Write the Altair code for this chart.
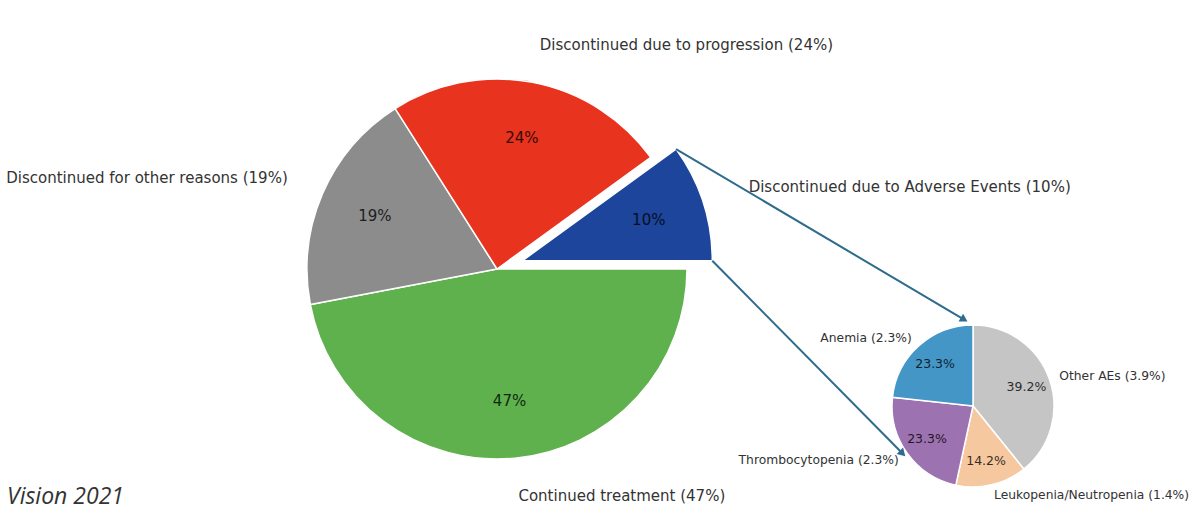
import math
import altair as alt
import pandas as pd

# ---------------- data ----------------
main_labels = ["Discontinued due to Adverse Events", "Discontinued due to progression",
               "Discontinued for other reasons", "Continued treatment"]
main_values = [10, 24, 19, 47]
main_colors = ["#1c459b", "#e8331f", "#8c8c8c", "#5eb14c"]
main_explode = [0.14, 0, 0, 0]

ae_labels = ["Anemia", "Thrombocytopenia", "Leukopenia/Neutropenia", "Other AEs"]
ae_share = [23.3, 23.3, 14.2, 39.2]      # % of AE discontinuations
ae_overall = [2.3, 2.3, 1.4, 3.9]        # % of all patients
ae_colors = ["#4496c7", "#9d72b0", "#f5c8a0", "#c5c5c5"]
ae_explode = [0, 0, 0, 0]

arrow_targets_deg = [356.6, 233.0]       # where the connectors meet the small pie

footer_text = "Vision 2021"

# ---------------- layout ----------------
W, H = 1200, 514
CX, CY, R = 497, 269, 190
CX2, CY2, R2 = 973, 406, 81
MAIN_START = math.pi / 2      # first slice starts at 3 o'clock, counter-clockwise
AE_START = 0.0                # first slice starts at 12 o'clock, counter-clockwise
TXT = "#333333"
ARROW = "#2e6b8c"
FONT = "DejaVu Sans"


def build(labels, values, colors, explode, start, radius, name_fmt, pct_fmt):
    n = len(values)
    total = float(sum(values))
    rows = []
    cum = 0.0
    # Vega draws clockwise, the reference counter-clockwise -> accumulate in reverse order
    for i in reversed(range(n)):
        v = values[i]
        s = cum
        cum += v
        m = s + v / 2.0
        th = start + 2 * math.pi * m / total
        e = explode[i] * radius
        rows.append(dict(
            idx=i, value=v, s=s, e=cum, m=m, color=colors[i],
            ox=e * math.sin(th), oy=-e * math.cos(th), exploded=explode[i] > 0,
            side="left" if math.sin(th) >= 0 else "right",
            name_text=name_fmt(i), pct_text=pct_fmt(i),
            th_s=start + 2 * math.pi * s / total, th_e=start + 2 * math.pi * cum / total,
        ))
    return pd.DataFrame(rows), total


main_df, main_total = build(
    main_labels, main_values, main_colors, main_explode, MAIN_START, R,
    lambda i: f"{main_labels[i]} ({main_values[i]}%)",
    lambda i: f"{main_values[i]}%")

ae_df, ae_total = build(
    ae_labels, ae_share, ae_colors, ae_explode, AE_START, R2,
    lambda i: f"{ae_labels[i]} ({ae_overall[i]}%)",
    lambda i: f"{ae_share[i]}%")


def pie_layers(df, total, start, cx, cy, radius, pct_r, lab_r, lab_extra,
               pct_size, lab_size, stroke_w):
    scale = alt.Scale(domain=[0, total], range=[start, start + 2 * math.pi])
    layers = []
    for rec in df.to_dict("records"):
        base = alt.Chart(df).transform_filter(alt.datum.idx == int(rec["idx"]))
        x = alt.value(cx + rec["ox"])
        y = alt.value(cy + rec["oy"])
        arc = base.mark_arc(outerRadius=radius, stroke="white", strokeWidth=stroke_w).encode(
            theta=alt.Theta("s:Q", scale=scale),
            theta2=alt.Theta2("e:Q"),
            fill=alt.Fill("color:N", scale=None),
            x=x, y=y,
        )
        pct = base.mark_text(radius=pct_r, fontSize=pct_size, font=FONT, color="#000000",
                             opacity=0.78, baseline="middle", align="center").encode(
            theta=alt.Theta("m:Q", scale=scale), text="pct_text:N", x=x, y=y)
        extra = lab_extra if rec["exploded"] else 0
        lab = base.mark_text(radius=lab_r + extra, fontSize=lab_size, font=FONT, color=TXT,
                             baseline="middle", align=rec["side"]).encode(
            theta=alt.Theta("m:Q", scale=scale), text="name_text:N", x=x, y=y)
        layers += [arc, pct, lab]
    return layers


main_layers = pie_layers(main_df, main_total, MAIN_START, CX, CY, R,
                         0.7 * R, 1.2 * R, 10, 15, 15, 1.5)
ae_layers = pie_layers(ae_df, ae_total, AE_START, CX2, CY2, R2,
                       0.7 * R2, 1.13 * R2, 0, 12.5, 12.3, 1.5)

# ---------------- connectors ----------------
ex = main_df[main_df.exploded].iloc[0]
ecx, ecy = CX + ex["ox"], CY + ex["oy"]
starts = [
    (ecx + R * math.sin(ex["th_s"]), ecy - R * math.cos(ex["th_s"])),
    (ecx + R * math.sin(ex["th_e"]), ecy - R * math.cos(ex["th_e"])),
]
# upper edge of exploded slice -> top target; lower edge -> lower target
starts = sorted(starts, key=lambda p: p[1])
HEAD = 80
half = math.sqrt(HEAD) / 2
arrow_rows = []
for (sx, sy), deg in zip(starts, arrow_targets_deg):
    t = math.radians(deg)
    tx = CX2 + 1.04 * R2 * math.sin(t)
    ty = CY2 - 1.04 * R2 * math.cos(t)
    dx, dy = tx - sx, ty - sy
    L = math.hypot(dx, dy)
    ux, uy = dx / L, dy / L
    hx, hy = tx - half * ux, ty - half * uy
    ang = math.degrees(math.atan2(ux, -uy)) % 360
    arrow_rows.append(dict(x1=sx, y1=sy, x2=hx, y2=hy, hx=hx, hy=hy, ang=ang))
arrow_df = pd.DataFrame(arrow_rows)

lines = alt.Chart(arrow_df).mark_rule(color=ARROW, strokeWidth=2).encode(
    x=alt.X("x1:Q", scale=None), y=alt.Y("y1:Q", scale=None),
    x2="x2:Q", y2="y2:Q")
heads = alt.Chart(arrow_df).mark_point(shape="triangle-up", filled=True, size=HEAD,
                                       color=ARROW, opacity=1).encode(
    x=alt.X("hx:Q", scale=None), y=alt.Y("hy:Q", scale=None),
    angle=alt.Angle("ang:Q", scale=None))

footer = alt.Chart(pd.DataFrame({"t": [footer_text]})).mark_text(
    align="left", baseline="middle", font="Open Sans", fontStyle="italic",
    fontSize=23, color=TXT).encode(x=alt.value(7), y=alt.value(497), text="t:N")

chart = alt.layer(*main_layers, *ae_layers, lines, heads, footer).resolve_scale(
    theta="independent"
).properties(
    width=W, height=H, padding=0, autosize="none", background="white"
).configure_view(stroke=None)

chart.save("out.html", embed_options={"renderer": "svg", "actions": False})
